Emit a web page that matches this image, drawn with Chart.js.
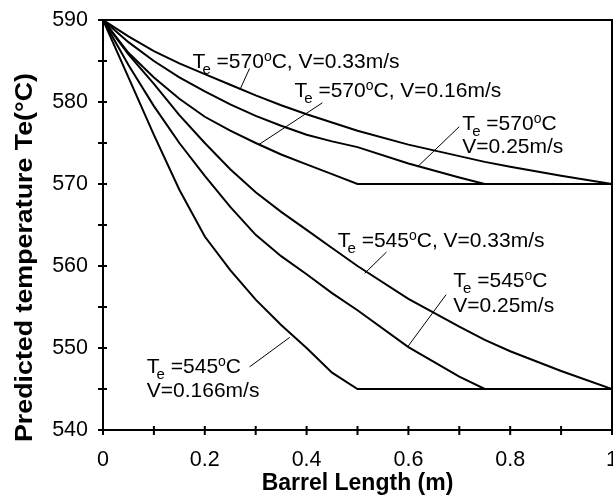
<!DOCTYPE html>
<html>
<head>
<meta charset="utf-8">
<script src="https://cdn.jsdelivr.net/npm/chart.js@4.4.1/dist/chart.umd.min.js"></script>
<style>
  html, body { margin: 0; padding: 0; background: #fff; }
</style>
</head>
<body>
<canvas id="chart" width="613" height="502"></canvas>
<script>
// barrel length (m), shared by all six curves
const lengths = [0, 0.05, 0.1, 0.15, 0.2, 0.25, 0.3, 0.35, 0.4, 0.45, 0.5, 0.6, 0.7, 0.75, 0.8, 0.9, 1];

// predicted temperature (°C)
const te570v033 = [590, 588.0, 586.2, 584.7, 583.4, 582.1, 580.8, 579.6, 578.5, 577.5, 576.5, 574.8, 573.4, 572.7, 572.1, 571.0, 570];
const te570v025 = [590, 587.3, 585.0, 583.0, 581.3, 579.7, 578.3, 577.1, 576.0, 575.2, 574.5, 572.5, 570.8, 570, 570, 570, 570];
const te570v016 = [590, 586.0, 583.0, 580.4, 578.2, 576.5, 575.0, 573.6, 572.4, 571.2, 570, 570, 570, 570, 570, 570, 570];
const te545v033 = [590, 585.8, 582.2, 578.4, 575.0, 571.8, 569.0, 566.6, 564.4, 562.2, 560.0, 556.0, 552.6, 551.0, 549.6, 547.2, 545];
const te545v025 = [590, 584.5, 579.5, 575.0, 571.0, 567.2, 563.8, 561.2, 559.0, 556.7, 554.6, 550.1, 546.5, 545, 545, 545, 545];
const te545v0166 = [590, 583.0, 576.0, 569.3, 563.6, 559.5, 555.9, 552.8, 550.0, 547.0, 545, 545, 545, 545, 545, 545, 545];

// curve labels (_ = subscript, ^ = superscript), anchored in data units
const labelTexts = ['T_e =570^oC, V=0.33m/s', 'T_e =570^oC, V=0.16m/s', 'T_e =570^oC', 'V=0.25m/s',
                    'T_e =545^oC, V=0.33m/s', 'T_e =545^oC', 'V=0.25m/s', 'T_e =545^oC', 'V=0.166m/s'];
const labelX = [0.176, 0.376, 0.706, 0.706, 0.461, 0.688, 0.688, 0.086, 0.086];
const labelY = [584.15, 580.6, 576.6, 573.8, 562.3, 557.4, 554.4, 546.95, 544.0];

// leader lines from label to curve
const leaderX = [[0.288, 0.269], [0.431, 0.306], [0.700, 0.618], [0.557, 0.514], [0.674, 0.598], [0.288, 0.367]];
const leaderY = [[584.1, 581.5], [579.9, 574.8], [577.0, 572.1], [561.7, 559.1], [556.5, 550.1], [547.7, 551.3]];

const FONT = '"Liberation Sans", Arial, sans-serif';

const toPoints = ys => lengths.map((x, i) => ({ x: x, y: ys[i] }));
const curve = ys => ({ data: toPoints(ys), borderColor: '#000', borderWidth: 2, pointRadius: 0, tension: 0, fill: false });
const leader = i => ({ data: [{ x: leaderX[i][0], y: leaderY[i][0] }, { x: leaderX[i][1], y: leaderY[i][1] }],
                       borderColor: '#000', borderWidth: 1, pointRadius: 0, fill: false });

function drawRich(ctx, text, x, y) {
    const parts = [];
    let i = 0;
    while (i < text.length) {
        const c = text[i];
        if (c === '_' || c === '^') { parts.push({ t: text[i + 1], mode: c }); i += 2; continue; }
        let j = i;
        while (j < text.length && text[j] !== '_' && text[j] !== '^') j++;
        parts.push({ t: text.slice(i, j), mode: '' });
        i = j;
    }
    let cx = x;
    parts.forEach(p => {
        let size = 21, dy = 0;
        if (p.mode === '_') { size = 15; dy = 6; cx -= 3; }
        if (p.mode === '^') { size = 14; dy = -7; }
        ctx.font = size + 'px ' + FONT;
        ctx.fillText(p.t, cx, y + dy);
        cx += ctx.measureText(p.t).width;
    });
}

const decor = {
    id: 'decor',
    afterDraw(chart) {
        const { ctx, chartArea: a, scales: { x, y } } = chart;
        ctx.save();
        ctx.strokeStyle = '#000';
        ctx.fillStyle = '#000';
        ctx.lineWidth = 2;
        ctx.strokeRect(a.left, a.top, a.right - a.left, a.bottom - a.top);
        // ticks crossing the axes
        ctx.beginPath();
        x.ticks.forEach(t => {
            const px = x.getPixelForValue(t.value);
            ctx.moveTo(px, a.bottom - 4); ctx.lineTo(px, a.bottom + 5);
        });
        y.ticks.forEach(t => {
            const py = y.getPixelForValue(t.value);
            ctx.moveTo(a.left - 5, py); ctx.lineTo(a.left + 4, py);
        });
        ctx.stroke();

        ctx.textBaseline = 'alphabetic';
        ctx.textAlign = 'left';
        labelTexts.forEach((s, i) => drawRich(ctx, s, x.getPixelForValue(labelX[i]), y.getPixelForValue(labelY[i])));

        // axis titles
        ctx.font = 'bold 23px ' + FONT;
        ctx.textAlign = 'center';
        ctx.fillText('Barrel Length (m)', (a.left + a.right) / 2, 490);
        const yt = 'Predicted temperature Te(°C)';
        const w = ctx.measureText(yt).width;
        ctx.translate(32, 257.5);
        ctx.rotate(-Math.PI / 2);
        ctx.scale(369 / w, 1);
        ctx.fillText(yt, 0, 0);
        ctx.restore();
    }
};

new Chart(document.getElementById('chart'), {
    type: 'line',
    data: {
        datasets: [curve(te570v033), curve(te570v025), curve(te570v016),
                   curve(te545v033), curve(te545v025), curve(te545v0166),
                   leader(0), leader(1), leader(2), leader(3), leader(4), leader(5)]
    },
    options: {
        responsive: false,
        devicePixelRatio: 1,
        animation: false,
        layout: { padding: { top: 20, right: 1, left: 0, bottom: 0 } },
        plugins: { legend: { display: false }, tooltip: { enabled: false } },
        scales: {
            x: {
                type: 'linear', min: 0, max: 1,
                grid: { display: false },
                border: { display: false },
                ticks: {
                    stepSize: 0.1, autoSkip: false, maxRotation: 0, padding: 9,
                    color: '#000', font: { family: FONT, size: 21.5 },
                    callback: v => {
                        const k = Math.round(v * 10);
                        if (k % 2) return '';
                        return k === 0 ? '0' : k === 10 ? '1' : (k / 10).toFixed(1);
                    }
                },
                afterFit: s => { s.height = 72; s.paddingLeft = 0; s.paddingRight = 0; }
            },
            y: {
                min: 540, max: 590,
                grid: { display: false },
                border: { display: false },
                ticks: {
                    stepSize: 5, autoSkip: false, padding: 7,
                    color: '#000', font: { family: FONT, size: 21.5 },
                    callback: v => (v % 10 === 0 ? String(v) : '')
                },
                afterFit: s => { s.width = 103; }
            }
        }
    },
    plugins: [decor]
});
</script>
</body>
</html>
